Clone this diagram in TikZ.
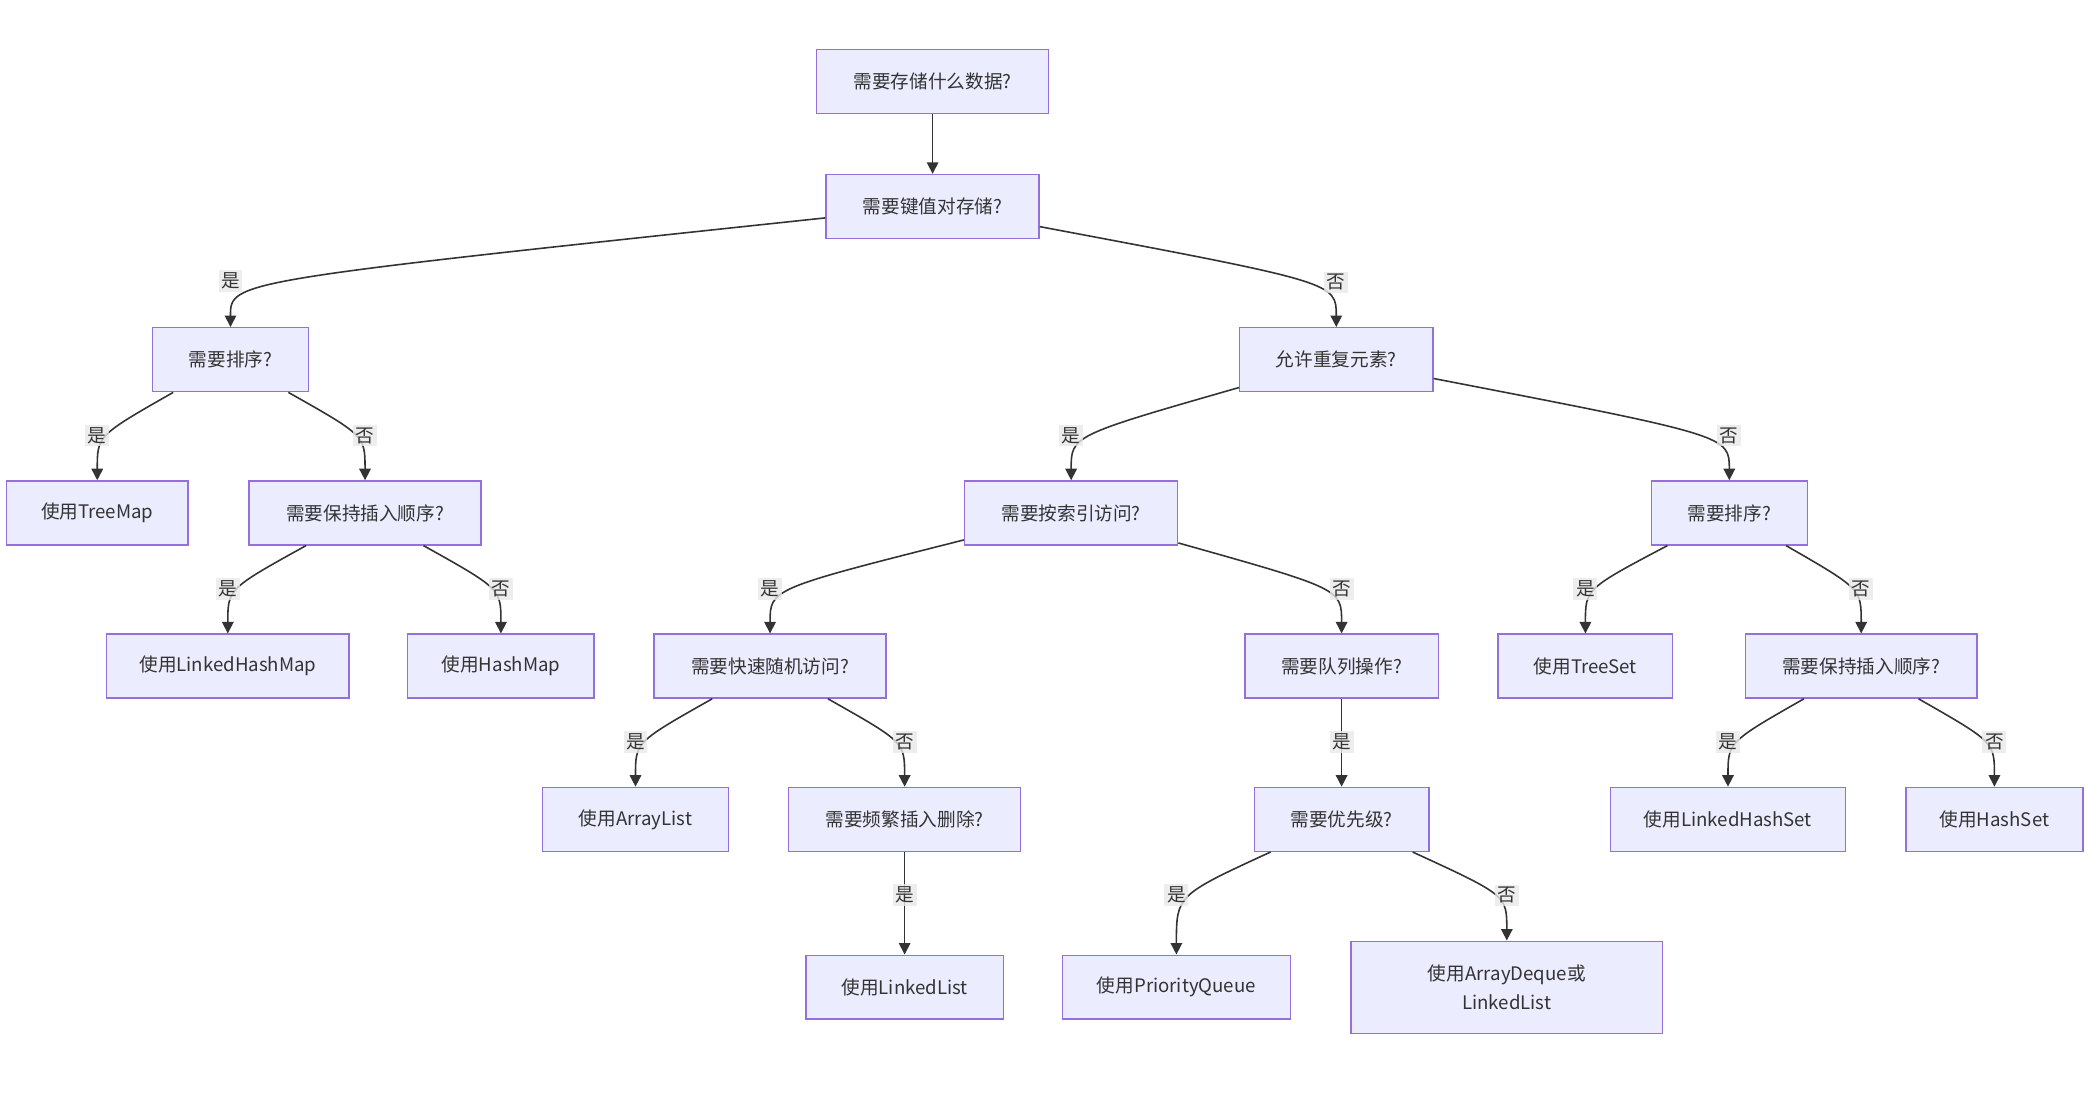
\documentclass[tikz,border=0pt]{standalone}
\usepackage{fontspec}
\setmainfont{Noto Sans CJK SC}
\usepackage{xcolor}
\usepackage{tikz}
\usetikzlibrary{arrows.meta}
\usetikzlibrary{calc}

\definecolor{boxfill}{HTML}{ECECFF}
\definecolor{boxline}{HTML}{9370DB}
\definecolor{inkline}{HTML}{333333}
\definecolor{lblfill}{HTML}{E8E8E8}

\tikzset{
	flowbox/.style={draw=boxline, fill=boxfill, line width=0.8pt, text=inkline,
		minimum width=#1*0.026646cm, minimum height=1.279cm, align=center,
		font=\fontsize{10.6pt}{16pt}\selectfont},
	flow/.style={draw=inkline, line width=0.9pt, -{Triangle[length=2.3mm,width=2.3mm]}},
	yesno/.style={fill=lblfill, fill opacity=0.8, text opacity=1, text=inkline,
		inner sep=1.5pt, font=\fontsize{10.6pt}{13pt}\selectfont}
}

\begin{document}
\begin{tikzpicture}[x=0.026646cm,y=0.026646cm]
	
	\useasboundingbox (0,0) rectangle (1568,-821);
	
	% boxes
	\node [flowbox=174] (q0) at (700,-61) {需要存储什么数据?};
	
	\node [flowbox=160] (kv) at (700,-155) {需要键值对存储?};
	
	\node [flowbox=117] (mapsort) at (173,-270) {需要排序?};
	\node [flowbox=145] (dup) at (1003,-270) {允许重复元素?};
	
	\node [flowbox=136] (treemap) at (73,-385) {使用TreeMap};
	\node [flowbox=174] (mapord) at (274,-385) {需要保持插入顺序?};
	\node [flowbox=160] (idx) at (804,-385) {需要按索引访问?};
	\node [flowbox=117] (setsort) at (1298,-385) {需要排序?};
	
	\node [flowbox=182] (lhm) at (171,-500) {使用LinkedHashMap};
	\node [flowbox=140] (hm) at (376,-500) {使用HashMap};
	\node [flowbox=174] (rand) at (578,-500) {需要快速随机访问?};
	\node [flowbox=145] (queue) at (1007,-500) {需要队列操作?};
	\node [flowbox=131] (treeset) at (1190,-500) {使用TreeSet};
	\node [flowbox=174] (setord) at (1397,-500) {需要保持插入顺序?};
	
	\node [flowbox=140] (alist) at (477,-615) {使用ArrayList};
	\node [flowbox=174] (freq) at (679,-615) {需要频繁插入删除?};
	\node [flowbox=131] (prio) at (1007,-615) {需要优先级?};
	\node [flowbox=176] (lhs) at (1297,-615) {使用LinkedHashSet};
	\node [flowbox=133] (hs) at (1497,-615) {使用HashSet};
	
	\node [flowbox=148] (llist) at (679,-741) {使用LinkedList};
	\node [flowbox=171] (pq) at (883,-741) {使用PriorityQueue};
	\node [flowbox=234, minimum height=1.84cm] (deque) at (1131,-741) {使用ArrayDeque或\\LinkedList};
	
	% label points
	\coordinate (m1) at (173,-211);
	\coordinate (m2) at (1003,-212);
	\coordinate (m3) at (73,-327);
	\coordinate (m4) at (274,-327);
	\coordinate (m5) at (804,-327);
	\coordinate (m6) at (1298,-327);
	\coordinate (m7) at (171,-442);
	\coordinate (m8) at (376,-442);
	\coordinate (m9) at (578,-442);
	\coordinate (m10) at (1007,-442);
	\coordinate (m11) at (1190,-442);
	\coordinate (m12) at (1397,-442);
	\coordinate (m13) at (477,-557);
	\coordinate (m14) at (679,-557);
	\coordinate (m15) at (1007,-557);
	\coordinate (m16) at (1297,-557);
	\coordinate (m17) at (1497,-557);
	\coordinate (m18) at (679,-672);
	\coordinate (m19) at (883,-672);
	\coordinate (m20) at (1131,-672);
	
	% connectors
	\draw [flow] (q0) -- (kv);
	
	\draw [flow] (kv) .. controls (m1) .. (mapsort);
	\draw [flow] (kv) .. controls (m2) .. (dup);
	
	\draw [flow] (mapsort) .. controls (m3) .. (treemap);
	\draw [flow] (mapsort) .. controls (m4) .. (mapord);
	\draw [flow] (dup) .. controls (m5) .. (idx);
	\draw [flow] (dup) .. controls (m6) .. (setsort);
	
	\draw [flow] (mapord) .. controls (m7) .. (lhm);
	\draw [flow] (mapord) .. controls (m8) .. (hm);
	\draw [flow] (idx) .. controls (m9) .. (rand);
	\draw [flow] (idx) .. controls (m10) .. (queue);
	\draw [flow] (setsort) .. controls (m11) .. (treeset);
	\draw [flow] (setsort) .. controls (m12) .. (setord);
	
	\draw [flow] (rand) .. controls (m13) .. (alist);
	\draw [flow] (rand) .. controls (m14) .. (freq);
	\draw [flow] (queue) -- (prio);
	\draw [flow] (setord) .. controls (m16) .. (lhs);
	\draw [flow] (setord) .. controls (m17) .. (hs);
	
	\draw [flow] (freq) -- (llist);
	\draw [flow] (prio) .. controls (m19) .. (pq);
	\draw [flow] (prio) .. controls (m20) .. (deque);
	
	% yes / no labels
	\node [yesno] (l1) at (m1) {是};
	\node [yesno] (l2) at (m2) {否};
	\node [yesno] (l3) at (m3) {是};
	\node [yesno] (l4) at (m4) {否};
	\node [yesno] (l5) at (m5) {是};
	\node [yesno] (l6) at (m6) {否};
	\node [yesno] (l7) at (m7) {是};
	\node [yesno] (l8) at (m8) {否};
	\node [yesno] (l9) at (m9) {是};
	\node [yesno] (l10) at (m10) {否};
	\node [yesno] (l11) at (m11) {是};
	\node [yesno] (l12) at (m12) {否};
	\node [yesno] (l13) at (m13) {是};
	\node [yesno] (l14) at (m14) {否};
	\node [yesno] (l15) at (m15) {是};
	\node [yesno] (l16) at (m16) {是};
	\node [yesno] (l17) at (m17) {否};
	\node [yesno] (l18) at (m18) {是};
	\node [yesno] (l19) at (m19) {是};
	\node [yesno] (l20) at (m20) {否};
	
\end{tikzpicture}
\end{document}
